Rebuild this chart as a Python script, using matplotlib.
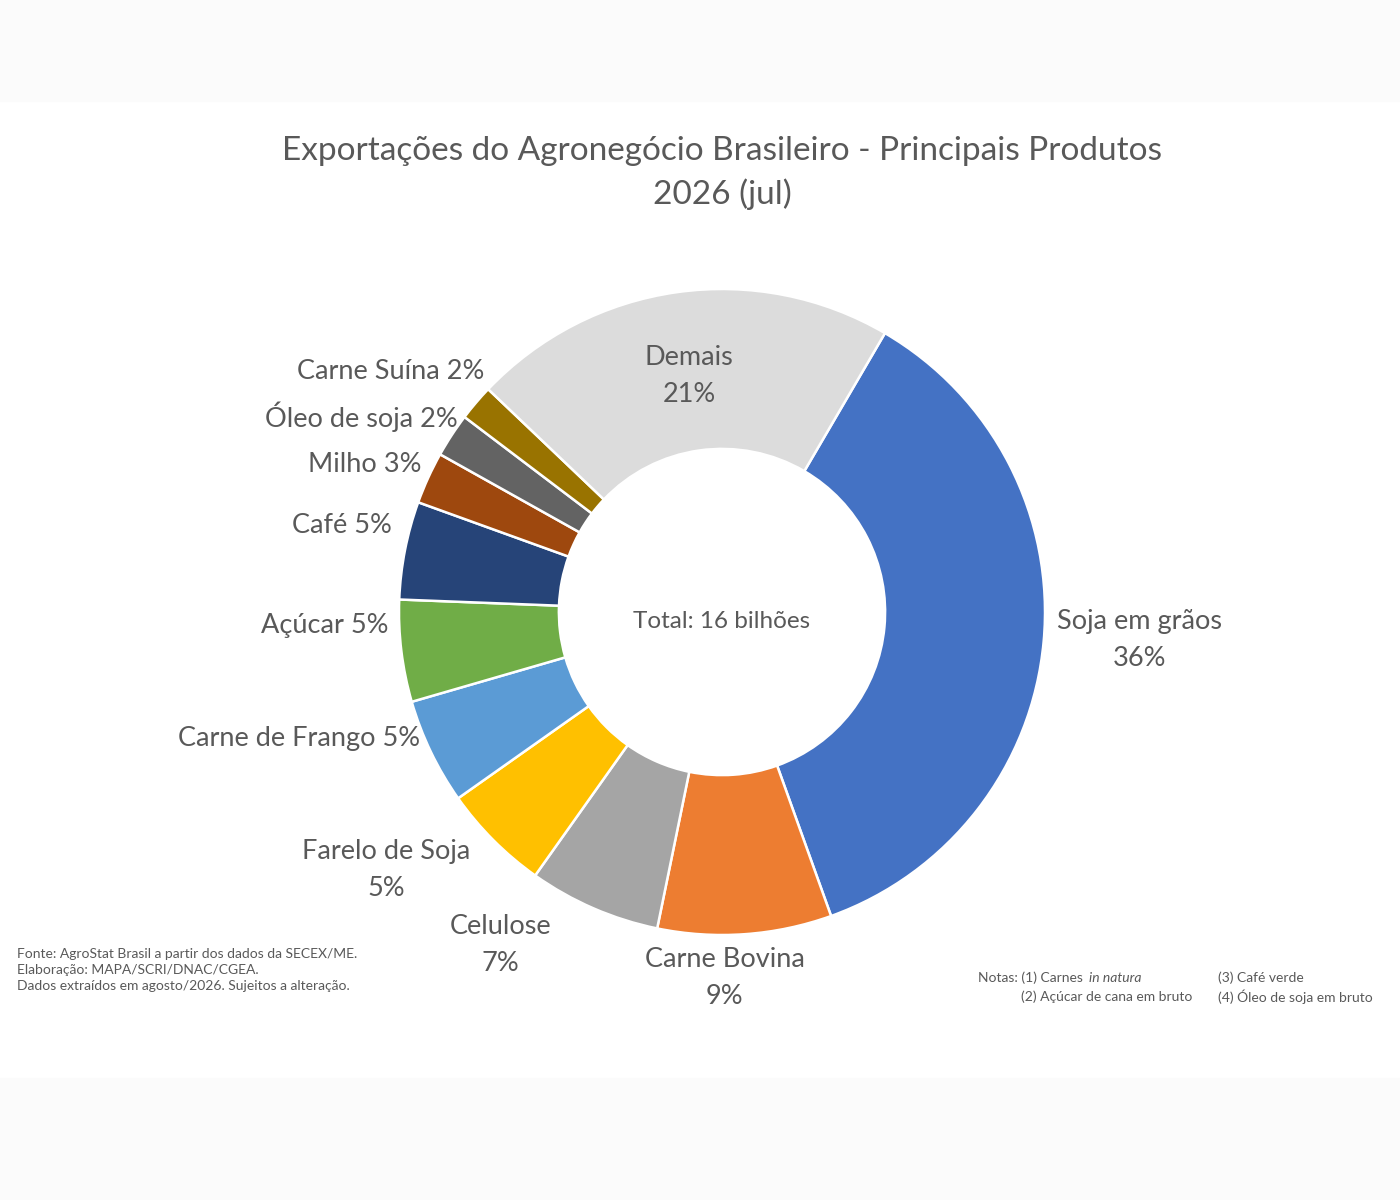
import matplotlib.pyplot as plt
from matplotlib.patches import Rectangle

# dados (% do total exportado)
produtos = ['Soja em grãos', 'Carne Bovina', 'Celulose', 'Farelo de Soja',
            'Carne de Frango', 'Açúcar', 'Café', 'Milho', 'Óleo de soja',
            'Carne Suína', 'Demais']
valores = [36.1, 8.7, 6.6, 5.4, 5.3, 5.1, 4.9, 2.6, 2.2, 1.8, 21.3]
cores = ['#4472C4', '#ED7D31', '#A5A5A5', '#FFC000', '#5B9BD5', '#70AD47',
         '#264478', '#9E480E', '#636363', '#997300', '#DCDCDC']
total_txt = 'Total: 16 bilhões'

# posições dos rótulos (unidades do raio) e formato
rotulo_pos = [(1.294, -0.087), (0.009, -1.134), (-0.687, -1.032), (-1.040, -0.799),
              (-0.935, -0.392), (-1.034, -0.042), (-1.022, 0.268), (-0.929, 0.456),
              (-0.817, 0.605), (-0.737, 0.744), (-0.102, 0.730)]
duas_linhas = {'Soja em grãos', 'Carne Bovina', 'Celulose', 'Farelo de Soja', 'Demais'}

plt.rcParams['font.family'] = ['Lato', 'DejaVu Sans']
cinza = '#595959'

fig = plt.figure(figsize=(14, 12), dpi=100)
fig.patch.set_facecolor('white')
# faixas claras em cima e embaixo
fig.patches.append(Rectangle((0, 1 - 101 / 1200), 1, 101 / 1200, transform=fig.transFigure,
                             color='#FBFBFB', zorder=0))
fig.patches.append(Rectangle((0, 0), 1, 122 / 1200, transform=fig.transFigure,
                             color='#FBFBFB', zorder=0))

ax = fig.add_axes([399 / 1400, 265 / 1200, 646 / 1400, 646 / 1200])
ax.pie(valores, colors=cores, startangle=59.7, counterclock=False, radius=1,
       wedgeprops=dict(width=0.495, edgecolor='white', linewidth=1.8))
ax.set_xlim(-1, 1)
ax.set_ylim(-1, 1)
ax.set_aspect('equal')
ax.axis('off')

for nome, v, (x, y) in zip(produtos, valores, rotulo_pos):
    pct = f'{round(v):.0f}%'
    if nome in duas_linhas:
        ax.text(x, y, f'{nome}\n{pct}', ha='center', va='center', fontsize=19.5,
                color=cinza, linespacing=1.6, clip_on=False)
    else:
        ax.text(x, y, f'{nome} {pct}', ha='right', va='center', fontsize=19.5,
                color=cinza, clip_on=False)

ax.text(0, -0.03, total_txt, ha='center', va='center', fontsize=17.5, color=cinza)

fig.text(722 / 1400, 1 - 173 / 1200,
         'Exportações do Agronegócio Brasileiro - Principais Produtos\n2026 (jul)',
         ha='center', va='center', fontsize=24, color=cinza, linespacing=1.45)

# fonte
fig.text(17 / 1400, 1 - 970 / 1200,
         'Fonte: AgroStat Brasil a partir dos dados da SECEX/ME.\n'
         'Elaboração: MAPA/SCRI/DNAC/CGEA.\n'
         'Dados extraídos em agosto/2026. Sujeitos a alteração.',
         ha='left', va='center', fontsize=10, color=cinza, linespacing=1.38)

# notas
fs = 10
fig.text(978 / 1400, 1 - 978 / 1200, 'Notas: (1) Carnes', ha='left', va='center',
         fontsize=fs, color=cinza)
fig.text(1089 / 1400, 1 - 978 / 1200, 'in natura', ha='left', va='center',
         fontsize=fs, color=cinza, style='italic')
fig.text(1218 / 1400, 1 - 978 / 1200, '(3) Café verde', ha='left', va='center',
         fontsize=fs, color=cinza)
fig.text(1021 / 1400, 1 - 997 / 1200, '(2) Açúcar de cana em bruto', ha='left',
         va='center', fontsize=fs, color=cinza)
fig.text(1218 / 1400, 1 - 997 / 1200, '(4) Óleo de soja em bruto', ha='left',
         va='center', fontsize=fs, color=cinza)

fig.savefig('out.png', dpi=100)
